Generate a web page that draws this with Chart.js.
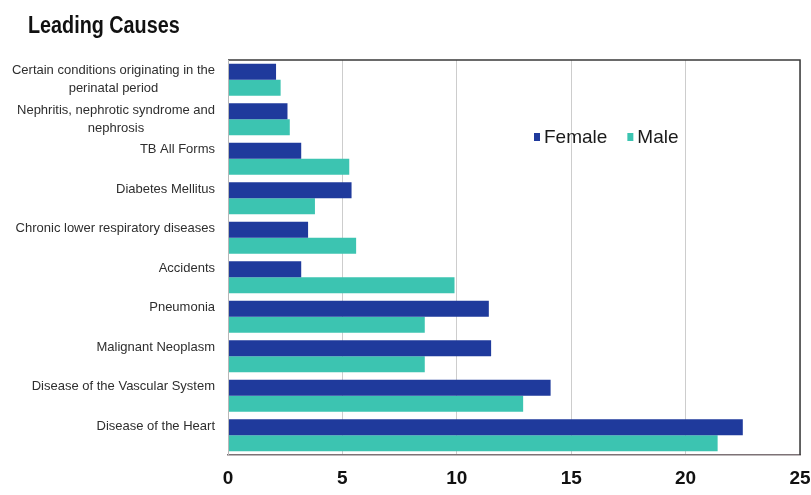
<!DOCTYPE html>
<html>
<head>
<meta charset="utf-8">
<title>Leading Causes</title>
<script src="https://cdn.jsdelivr.net/npm/chart.js@4.4.1/dist/chart.umd.min.js"></script>
<style>
  html, body { margin: 0; padding: 0; background: #ffffff; }
  #wrap { width: 811px; height: 495px; position: relative; }
</style>
</head>
<body>
<div id="wrap"><canvas id="chart" width="811" height="495"></canvas></div>
<script>
// Causes of death, listed top to bottom
const causes = [
  ["Certain conditions originating in the", "perinatal period"],
  ["Nephritis, nephrotic syndrome and", "nephrosis"],
  "TB All Forms",
  "Diabetes Mellitus",
  "Chronic lower respiratory diseases",
  "Accidents",
  "Pneumonia",
  "Malignant Neoplasm",
  "Disease of the Vascular System",
  "Disease of the Heart"
];
const femaleValues = [2.1, 2.6, 3.2, 5.4, 3.5, 3.2, 11.4, 11.5, 14.1, 22.5];
const maleValues   = [2.3, 2.7, 5.3, 3.8, 5.6, 9.9, 8.6, 8.6, 12.9, 21.4];
const xTicks = [0, 5, 10, 15, 20, 25];

const FEMALE = '#1f3a9c';
const MALE = '#3cc4b1';

// Draws the title, category labels, legend and plot frame
const decorations = {
  id: 'decorations',
  afterDraw(chart) {
    const ctx = chart.ctx;
    const area = chart.chartArea;
    const y = chart.scales.y;
    ctx.save();

    // title, set in a condensed bold face
    ctx.save();
    ctx.fillStyle = '#111';
    ctx.font = 'bold 23px "Liberation Sans", Arial, sans-serif';
    ctx.textAlign = 'left';
    ctx.textBaseline = 'middle';
    ctx.translate(28, 27);
    ctx.scale(0.86, 1);
    ctx.fillText('Leading Causes', 0, 0);
    ctx.restore();

    // category labels: first line sits level with the upper bar, extra lines centred under it
    ctx.font = '13px "Liberation Sans", Arial, sans-serif';
    ctx.fillStyle = '#2e2e2e';
    ctx.textBaseline = 'middle';
    const rightEdge = area.left - 13;
    const lineH = 18;
    causes.forEach((lab, i) => {
      const lines = Array.isArray(lab) ? lab : [lab];
      const cy = y.getPixelForTick(i);
      const maxW = Math.max(...lines.map(l => ctx.measureText(l).width));
      const cx = rightEdge - maxW / 2;
      ctx.textAlign = 'center';
      lines.forEach((l, k) => {
        ctx.fillText(l, cx, cy - 9 + k * lineH);
      });
    });

    // legend
    ctx.font = '19px "Liberation Sans", Arial, sans-serif';
    ctx.textAlign = 'left';
    let lx = 534;
    const ly = 137;
    chart.data.datasets.forEach(ds => {
      ctx.fillStyle = ds.backgroundColor;
      ctx.fillRect(lx, ly - 4, 6, 8);
      ctx.fillStyle = '#1a1a1a';
      ctx.fillText(ds.label, lx + 10, ly + 1);
      lx += 10 + ctx.measureText(ds.label).width + 20;
    });

    // frame
    ctx.lineWidth = 1.5;
    ctx.strokeStyle = '#3a3a3a';
    ctx.beginPath();
    ctx.moveTo(area.left, area.top);
    ctx.lineTo(area.right, area.top);
    ctx.lineTo(area.right, area.bottom);
    ctx.stroke();
    ctx.lineWidth = 1;
    ctx.strokeStyle = '#b8b8b8';
    ctx.beginPath();
    ctx.moveTo(area.left + 0.5, area.top);
    ctx.lineTo(area.left + 0.5, area.bottom);
    ctx.stroke();
    ctx.restore();
  }
};

new Chart(document.getElementById('chart'), {
  type: 'bar',
  data: {
    labels: causes,
    datasets: [
      { label: 'Female', data: femaleValues, backgroundColor: FEMALE, borderWidth: 0 },
      { label: 'Male', data: maleValues, backgroundColor: MALE, borderWidth: 0 }
    ]
  },
  options: {
    indexAxis: 'y',
    responsive: false,
    animation: false,
    events: [],
    layout: { padding: { top: 60, right: 0, left: 0, bottom: 0 } },
    datasets: { bar: { categoryPercentage: 0.81, barPercentage: 1.0 } },
    plugins: {
      legend: { display: false },
      title: { display: false },
      tooltip: { enabled: false }
    },
    scales: {
      y: {
        afterFit(scale) { scale.width = 228; },
        ticks: { display: false },
        grid: { display: false },
        border: { display: false }
      },
      x: {
        min: 0,
        max: 25,
        afterFit(scale) {
          scale.height = 40;
          scale.paddingLeft = 0;
          scale.paddingRight = 11;
        },
        afterBuildTicks(scale) { scale.ticks = xTicks.map(v => ({ value: v })); },
        ticks: {
          padding: 12,
          color: '#111',
          font: { family: '"Liberation Sans", Arial, sans-serif', size: 19, weight: 'bold' }
        },
        grid: { color: '#cdcdcd', lineWidth: 1, drawTicks: false },
        border: { display: true, color: '#7d7276', width: 1.5 }
      }
    }
  },
  plugins: [decorations]
});
</script>
</body>
</html>
